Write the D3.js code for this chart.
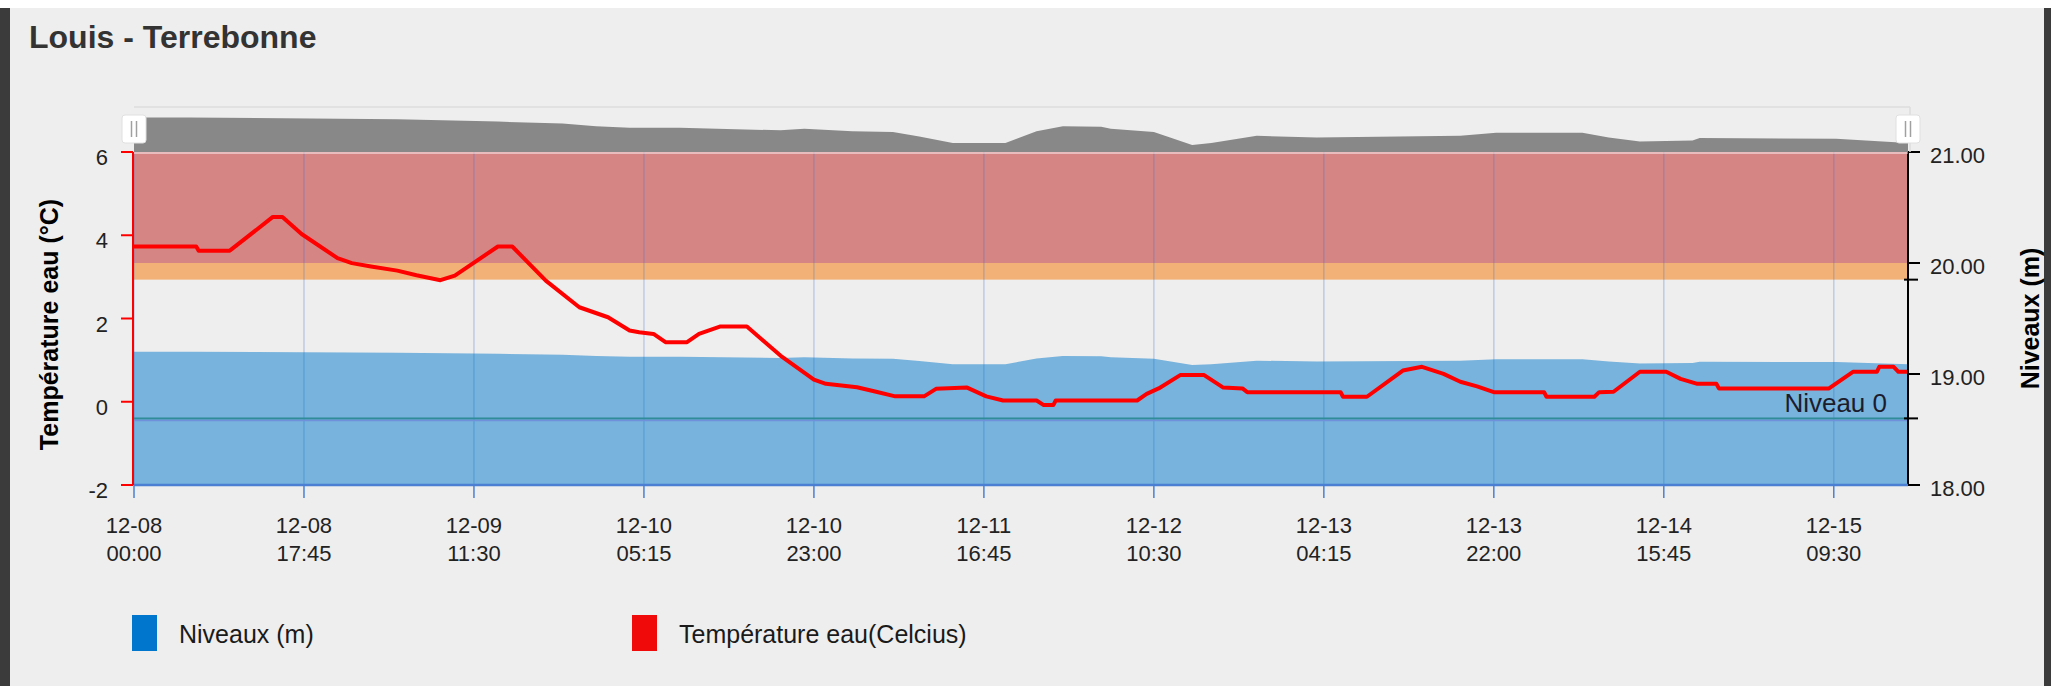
<!DOCTYPE html>
<html>
<head>
<meta charset="utf-8">
<script src="https://cdn.jsdelivr.net/npm/d3@7"></script>
<style>
  html, body { margin: 0; padding: 0; background: #eeeeee; }
  svg { display: block; font-family: "Liberation Sans", Arial, sans-serif; }
</style>
</head>
<body>
<div id="chart"></div>
<script>
// Water temperature (°C)
const tempTimes = [
  "12-08 00:00", "12-08 06:30", "12-08 06:45", "12-08 10:00", "12-08 14:30", "12-08 15:30",
  "12-08 17:30", "12-08 21:15", "12-08 22:45", "12-09 00:45", "12-09 03:30", "12-09 05:30",
  "12-09 08:00", "12-09 09:30", "12-09 14:00", "12-09 15:30", "12-09 19:00", "12-09 22:30",
  "12-10 01:30", "12-10 03:45", "12-10 04:45", "12-10 06:15", "12-10 07:30", "12-10 09:45",
  "12-10 11:00", "12-10 13:15", "12-10 16:00", "12-10 19:30", "12-10 23:00", "12-11 00:15",
  "12-11 03:30", "12-11 05:30", "12-11 07:30", "12-11 10:30", "12-11 11:45", "12-11 15:00",
  "12-11 17:00", "12-11 18:45", "12-11 22:15", "12-11 23:00", "12-12 00:00", "12-12 00:15",
  "12-12 08:45", "12-12 09:45", "12-12 11:00", "12-12 13:15", "12-12 15:45", "12-12 17:45",
  "12-12 19:45", "12-12 20:15", "12-13 06:00", "12-13 06:15", "12-13 08:45", "12-13 12:30",
  "12-13 14:30", "12-13 16:45", "12-13 18:30", "12-13 20:15", "12-13 22:00", "12-14 03:15",
  "12-14 03:30", "12-14 08:30", "12-14 09:00", "12-14 10:30", "12-14 13:15", "12-14 16:00",
  "12-14 17:30", "12-14 19:15", "12-14 21:15", "12-14 21:30", "12-15 09:00", "12-15 11:30",
  "12-15 14:00", "12-15 14:15", "12-15 15:45", "12-15 16:15", "12-15 17:15"
];
const tempValues = [
  3.73, 3.73, 3.63, 3.63, 4.44, 4.44,
  4.03, 3.45, 3.33, 3.25, 3.15, 3.04,
  2.92, 3.03, 3.73, 3.73, 2.91, 2.27,
  2.03, 1.71, 1.67, 1.63, 1.43, 1.43,
  1.63, 1.81, 1.81, 1.11, 0.53, 0.43,
  0.35, 0.24, 0.13, 0.13, 0.31, 0.34,
  0.13, 0.03, 0.03, -0.08, -0.08, 0.03,
  0.03, 0.19, 0.32, 0.64, 0.64, 0.34,
  0.32, 0.23, 0.23, 0.12, 0.12, 0.75,
  0.84, 0.67, 0.48, 0.37, 0.23, 0.23,
  0.12, 0.12, 0.23, 0.24, 0.72, 0.72,
  0.55, 0.43, 0.43, 0.32, 0.32, 0.72,
  0.72, 0.84, 0.84, 0.72, 0.72
];

// Water level (m)
const levelTimes = [
  "12-08 00:00", "12-08 05:45", "12-09 03:30", "12-09 14:00", "12-09 20:45", "12-10 00:15",
  "12-10 03:45", "12-10 09:00", "12-10 19:30", "12-10 22:00", "12-11 03:00", "12-11 07:15",
  "12-11 10:00", "12-11 13:30", "12-11 19:00", "12-11 22:15", "12-12 01:00", "12-12 05:00",
  "12-12 06:00", "12-12 10:30", "12-12 14:30", "12-12 16:30", "12-12 21:15", "12-13 03:30",
  "12-13 18:30", "12-13 22:15", "12-14 07:15", "12-14 10:00", "12-14 13:15", "12-14 18:45",
  "12-14 19:30", "12-15 09:45", "12-15 17:15"
];
const levelValues = [
  19.200, 19.200, 19.192, 19.182, 19.174, 19.162,
  19.155, 19.155, 19.144, 19.151, 19.140, 19.137,
  19.117, 19.088, 19.088, 19.140, 19.162, 19.160,
  19.151, 19.137, 19.080, 19.088, 19.120, 19.113,
  19.120, 19.133, 19.133, 19.113, 19.095, 19.099,
  19.110, 19.107, 19.088
];

// Plot bands and plot line on the level axis (m)
const bandLimits = [[20.0, 21.0], [19.85, 20.0]];
const niveauZero = 18.6;

const tempTicks = [-2, 0, 2, 4, 6];
const levelTicks = [18, 19, 20, 21];
const xStart = "12-08 00:00";
const xEnd = "12-15 17:15";
const xTickStepMinutes = 17 * 60 + 45;

const legendItems = ["Niveaux (m)", "Température eau(Celcius)"];

const parse = s => d3.timeParse("%Y-%m-%d %H:%M")("2016-" + s);

const width = 2051, height = 686;
const pLeft = 134, pRight = 1908, pTop = 152, pBottom = 485;
const navTop = 107;

const svg = d3.select("#chart").append("svg")
    .attr("width", width)
    .attr("height", height);

// frame
svg.append("rect").attr("width", width).attr("height", height).attr("fill", "#eeeeee");
svg.append("rect").attr("width", width).attr("height", 8).attr("fill", "#ffffff");
svg.append("rect").attr("x", 0).attr("y", 8).attr("width", 10).attr("height", height - 8).attr("fill", "#3b3b3b");
svg.append("rect").attr("x", 2044).attr("y", 8).attr("width", 7).attr("height", height - 8).attr("fill", "#3b3b3b");

const x = d3.scaleTime().domain([parse(xStart), parse(xEnd)]).range([pLeft, pRight]);
const yT = d3.scaleLinear().domain([-2, 6]).range([pBottom, pTop]);
const yL = d3.scaleLinear().domain([18, 21]).range([pBottom, pTop]);
const yNav = d3.scaleLinear().domain([19.049, 19.246]).range([pTop, navTop]);

const temp = tempTimes.map((t, i) => ({ t: parse(t), v: tempValues[i] }));
const level = levelTimes.map((t, i) => ({ t: parse(t), v: levelValues[i] }));
const xTicks = d3.range(11).map(i => d3.timeMinute.offset(parse(xStart), i * xTickStepMinutes));

// title
svg.append("text")
    .attr("x", 29).attr("y", 48)
    .attr("fill", "#333333")
    .style("font-size", "32px").style("font-weight", "bold")
    .text("Louis - Terrebonne");

// bands
const bandColors = ["#d68585", "#f2b277"];
svg.append("g").selectAll("rect")
    .data(bandLimits)
    .join("rect")
    .attr("x", pLeft).attr("width", pRight - pLeft)
    .attr("y", d => yL(d[1]))
    .attr("height", d => yL(d[0]) - yL(d[1]))
    .attr("fill", (d, i) => bandColors[i]);

// vertical grid
svg.append("g").selectAll("line")
    .data(xTicks)
    .join("line")
    .attr("x1", d => x(d)).attr("x2", d => x(d))
    .attr("y1", pTop).attr("y2", pBottom)
    .attr("stroke", "rgba(60,110,200,0.28)")
    .attr("stroke-width", 1.5);

// level area
svg.append("path")
    .datum(level)
    .attr("fill", "#0077cc")
    .attr("fill-opacity", 0.5)
    .attr("d", d3.area().x(d => x(d.t)).y0(pBottom).y1(d => yL(d.v)));

// Niveau 0 plot line
svg.append("line")
    .attr("x1", pLeft).attr("x2", pRight)
    .attr("y1", yL(niveauZero)).attr("y2", yL(niveauZero))
    .attr("stroke", "#2f8c98").attr("stroke-width", 2);
svg.append("line")
    .attr("x1", pLeft).attr("x2", pRight)
    .attr("y1", yL(niveauZero) + 2).attr("y2", yL(niveauZero) + 2)
    .attr("stroke", "#7090dc").attr("stroke-width", 1.5);
svg.append("text")
    .attr("x", 1887).attr("y", yL(niveauZero) - 6)
    .attr("text-anchor", "end")
    .attr("fill", "#1c1c2c")
    .style("font-size", "26px")
    .text("Niveau 0");

// temperature line
svg.append("path")
    .datum(temp)
    .attr("fill", "none")
    .attr("stroke", "#ff0000")
    .attr("stroke-width", 4)
    .attr("stroke-linejoin", "round")
    .attr("d", d3.line().x(d => x(d.t)).y(d => yT(d.v)));

// left axis (temperature)
const gL = svg.append("g");
gL.append("line")
    .attr("x1", pLeft - 1).attr("x2", pLeft - 1).attr("y1", pTop).attr("y2", pBottom)
    .attr("stroke", "#ff0000").attr("stroke-width", 2);
gL.selectAll("line.tick").data(tempTicks).join("line")
    .attr("class", "tick")
    .attr("x1", pLeft - 13).attr("x2", pLeft - 1)
    .attr("y1", d => yT(d)).attr("y2", d => yT(d))
    .attr("stroke", "#ff0000").attr("stroke-width", 2);
gL.selectAll("text").data(tempTicks).join("text")
    .attr("x", 108).attr("y", d => yT(d) + 13)
    .attr("text-anchor", "end")
    .attr("fill", "#222")
    .style("font-size", "22px")
    .text(d => d);
svg.append("text")
    .attr("transform", `translate(58,${(pTop + pBottom) / 2 + 6}) rotate(-90)`)
    .attr("text-anchor", "middle")
    .attr("fill", "#000")
    .style("font-size", "25px").style("font-weight", "bold")
    .text("Température eau (°C)");

// right axis (level)
const gR = svg.append("g");
gR.append("line")
    .attr("x1", pRight).attr("x2", pRight).attr("y1", pTop).attr("y2", pBottom)
    .attr("stroke", "#000").attr("stroke-width", 2);
gR.selectAll("line.tick").data(levelTicks).join("line")
    .attr("class", "tick")
    .attr("x1", pRight).attr("x2", pRight + 12)
    .attr("y1", d => yL(d)).attr("y2", d => yL(d))
    .attr("stroke", "#000").attr("stroke-width", 2);
gR.selectAll("line.extra").data([bandLimits[1][0], niveauZero]).join("line")
    .attr("class", "extra")
    .attr("x1", pRight - 4).attr("x2", pRight + 10)
    .attr("y1", d => yL(d)).attr("y2", d => yL(d))
    .attr("stroke", "#000").attr("stroke-width", 2);
gR.selectAll("text").data(levelTicks).join("text")
    .attr("x", 1930).attr("y", d => yL(d) + 11)
    .attr("fill", "#222")
    .style("font-size", "22px")
    .text(d => d3.format(".2f")(d));
svg.append("text")
    .attr("transform", `translate(2039,${(pTop + pBottom) / 2}) rotate(-90)`)
    .attr("text-anchor", "middle")
    .attr("fill", "#000")
    .style("font-size", "25px").style("font-weight", "bold")
    .text("Niveaux (m)");

// x axis
const gX = svg.append("g");
gX.append("line")
    .attr("x1", pLeft).attr("x2", pRight).attr("y1", pBottom).attr("y2", pBottom)
    .attr("stroke", "#4a7fd4").attr("stroke-width", 2.5);
gX.selectAll("line.tick").data(xTicks).join("line")
    .attr("class", "tick")
    .attr("x1", d => x(d)).attr("x2", d => x(d))
    .attr("y1", pBottom).attr("y2", pBottom + 13)
    .attr("stroke", "#4a7fd4").attr("stroke-width", 1.5);
const xl = gX.selectAll("text").data(xTicks).join("text")
    .attr("text-anchor", "middle")
    .attr("fill", "#222")
    .style("font-size", "22px");
xl.append("tspan").attr("x", d => x(d)).attr("y", 533).text(d3.timeFormat("%m-%d"));
xl.append("tspan").attr("x", d => x(d)).attr("y", 561).text(d3.timeFormat("%H:%M"));

// navigator
const gN = svg.append("g");
gN.append("path")
    .datum(level)
    .attr("fill", "#888888")
    .attr("d", d3.area().x(d => x(d.t)).y0(pTop).y1(d => yNav(d.v)));
gN.append("line")
    .attr("x1", pLeft).attr("x2", pRight + 2).attr("y1", navTop).attr("y2", navTop)
    .attr("stroke", "#dcdcdc").attr("stroke-width", 1.5);
gN.append("line")
    .attr("x1", pRight + 2).attr("x2", pRight + 2).attr("y1", navTop).attr("y2", pTop)
    .attr("stroke", "#dcdcdc").attr("stroke-width", 1.5);
gN.append("line")
    .attr("x1", pLeft).attr("x2", pRight).attr("y1", pTop + 1).attr("y2", pTop + 1)
    .attr("stroke", "rgba(255,255,255,0.45)").attr("stroke-width", 2);
[pLeft, pRight].forEach(hx => {
  gN.append("rect")
      .attr("x", hx - 12).attr("y", 115).attr("width", 24).attr("height", 28)
      .attr("rx", 3)
      .attr("fill", "#ffffff").attr("stroke", "#e0e0e0").attr("stroke-width", 1);
  [-2.5, 2.5].forEach(dx => {
    gN.append("line")
        .attr("x1", hx + dx).attr("x2", hx + dx).attr("y1", 121).attr("y2", 137)
        .attr("stroke", "#a0a0a0").attr("stroke-width", 1.5);
  });
});

// legend
const legendColors = ["#0077cc", "#f00a0a"];
const legendX = [132, 632];
const lg = svg.append("g").selectAll("g").data(legendItems).join("g")
    .attr("transform", (d, i) => `translate(${legendX[i]},0)`);
lg.append("rect")
    .attr("x", 0).attr("y", 615).attr("width", 25).attr("height", 36)
    .attr("fill", (d, i) => legendColors[i]);
lg.append("text")
    .attr("x", 47).attr("y", 643)
    .attr("fill", "#1a1a1a")
    .style("font-size", "25px")
    .text(d => d);
</script>
</body>
</html>
